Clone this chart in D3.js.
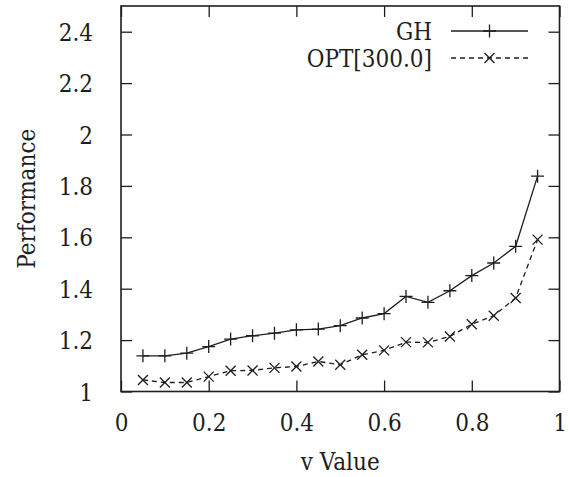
<!DOCTYPE html>
<html>
<head>
<meta charset="utf-8">
<script src="https://cdn.jsdelivr.net/npm/d3@7"></script>
<style>
  html, body { margin: 0; padding: 0; background: #fff; }
</style>
</head>
<body>
<svg id="chart" width="570" height="477"></svg>
<script>
const xValues = [0.05, 0.10, 0.15, 0.20, 0.25, 0.30, 0.35, 0.40, 0.45, 0.50, 0.55, 0.60, 0.65, 0.70, 0.75, 0.80, 0.85, 0.90, 0.95];
const ghValues = [1.139, 1.139, 1.149, 1.175, 1.204, 1.217, 1.227, 1.240, 1.243, 1.256, 1.286, 1.303, 1.370, 1.347, 1.392, 1.451, 1.500, 1.565, 1.838];
const optValues = [1.045, 1.035, 1.035, 1.058, 1.081, 1.082, 1.092, 1.097, 1.117, 1.104, 1.143, 1.160, 1.192, 1.191, 1.214, 1.262, 1.295, 1.364, 1.591];
const seriesNames = ["GH", "OPT[300.0]"];
const xTicks = [0, 0.2, 0.4, 0.6, 0.8, 1];
const yTicks = [1, 1.2, 1.4, 1.6, 1.8, 2, 2.2, 2.4];
const xTitle = "v Value";
const yTitle = "Performance";

const FONT = '"DejaVu Serif Condensed", "DejaVu Serif"';
const svg = d3.select("#chart");
const L = 121, R = 559.5, T = 6, B = 391.5;
const x = d3.scaleLinear().domain([0, 1]).range([L, R]);
const y = d3.scaleLinear().domain([1, 2.5]).range([B, T]);
const ink = "#1e1e1e";
const tickLen = 11;
const fs = 24;

const fmt = d => d3.format("")(+d.toFixed(1));
const gx = svg.append("g").attr("transform", `translate(0,${B})`)
  .call(d3.axisBottom(x).tickValues(xTicks).tickSize(-tickLen).tickFormat(fmt));
const gxTop = svg.append("g").attr("transform", `translate(0,${T})`)
  .call(d3.axisTop(x).tickValues(xTicks).tickSize(-tickLen).tickFormat(""));
const gy = svg.append("g").attr("transform", `translate(${L},0)`)
  .call(d3.axisLeft(y).tickValues(yTicks).tickSize(-tickLen).tickPadding(tickLen + 17).tickFormat(fmt));
const gyR = svg.append("g").attr("transform", `translate(${R},0)`)
  .call(d3.axisRight(y).tickValues(yTicks).tickSize(-tickLen).tickFormat(""));

[gx, gxTop, gy, gyR].forEach(g => {
  g.attr("font-family", FONT);
  g.select(".domain").remove();
  g.selectAll(".tick line").attr("stroke", ink).attr("stroke-width", 1.3);
  g.selectAll(".tick text").attr("font-size", fs).attr("fill", ink).attr("font-family", FONT);
});
gx.selectAll(".tick text").attr("dy", null).attr("y", 39);
gy.selectAll(".tick text").attr("dy", "0.36em");

svg.append("rect").attr("x", L).attr("y", T).attr("width", R - L).attr("height", B - T)
  .attr("fill", "none").attr("stroke", ink).attr("stroke-width", 1.6);

svg.append("text").attr("x", (L + R) / 2).attr("y", 470).attr("text-anchor", "middle")
  .attr("font-size", fs).attr("fill", ink).attr("font-family", FONT).text(xTitle);
svg.append("text").attr("transform", `translate(35,${(T + B) / 2}) rotate(-90)`)
  .attr("text-anchor", "middle").attr("font-size", fs).attr("fill", ink).attr("font-family", FONT).text(yTitle);

const gh = xValues.map((v, i) => [v, ghValues[i]]);
const opt = xValues.map((v, i) => [v, optValues[i]]);
const line = d3.line().x(d => x(d[0])).y(d => y(d[1]));

svg.append("path").datum(gh).attr("d", line).attr("fill", "none")
  .attr("stroke", ink).attr("stroke-width", 1.3);
svg.append("path").datum(opt).attr("d", line).attr("fill", "none")
  .attr("stroke", ink).attr("stroke-width", 1.3).attr("stroke-dasharray", "5,4");

const plusPath = (cx, cy, s) => `M${cx - s},${cy}H${cx + s}M${cx},${cy - s}V${cy + s}`;
const crossPath = (cx, cy, s) => `M${cx - s},${cy - s}L${cx + s},${cy + s}M${cx - s},${cy + s}L${cx + s},${cy - s}`;

svg.append("g").selectAll("path").data(gh).join("path")
  .attr("d", d => plusPath(x(d[0]), y(d[1]), 6.5))
  .attr("stroke", ink).attr("stroke-width", 1.3).attr("fill", "none");
svg.append("g").selectAll("path").data(opt).join("path")
  .attr("d", d => crossPath(x(d[0]), y(d[1]), 5))
  .attr("stroke", ink).attr("stroke-width", 1.3).attr("fill", "none");

const legX1 = 451, legX2 = 528, legText = 432;
const legRows = [31, 58];
seriesNames.forEach((name, i) => {
  const ly = legRows[i];
  svg.append("text").attr("x", legText).attr("y", ly).attr("dy", "0.36em")
    .attr("text-anchor", "end").attr("font-size", fs).attr("fill", ink).attr("font-family", FONT).text(name);
  const ln = svg.append("line").attr("x1", legX1).attr("x2", legX2).attr("y1", ly).attr("y2", ly)
    .attr("stroke", ink).attr("stroke-width", 1.3);
  const mx = (legX1 + legX2) / 2;
  if (i === 0) {
    svg.append("path").attr("d", plusPath(mx, ly, 6.5)).attr("stroke", ink).attr("stroke-width", 1.3);
  } else {
    ln.attr("stroke-dasharray", "5,4");
    svg.append("path").attr("d", crossPath(mx, ly, 5)).attr("stroke", ink).attr("stroke-width", 1.3);
  }
});
</script>
</body>
</html>
